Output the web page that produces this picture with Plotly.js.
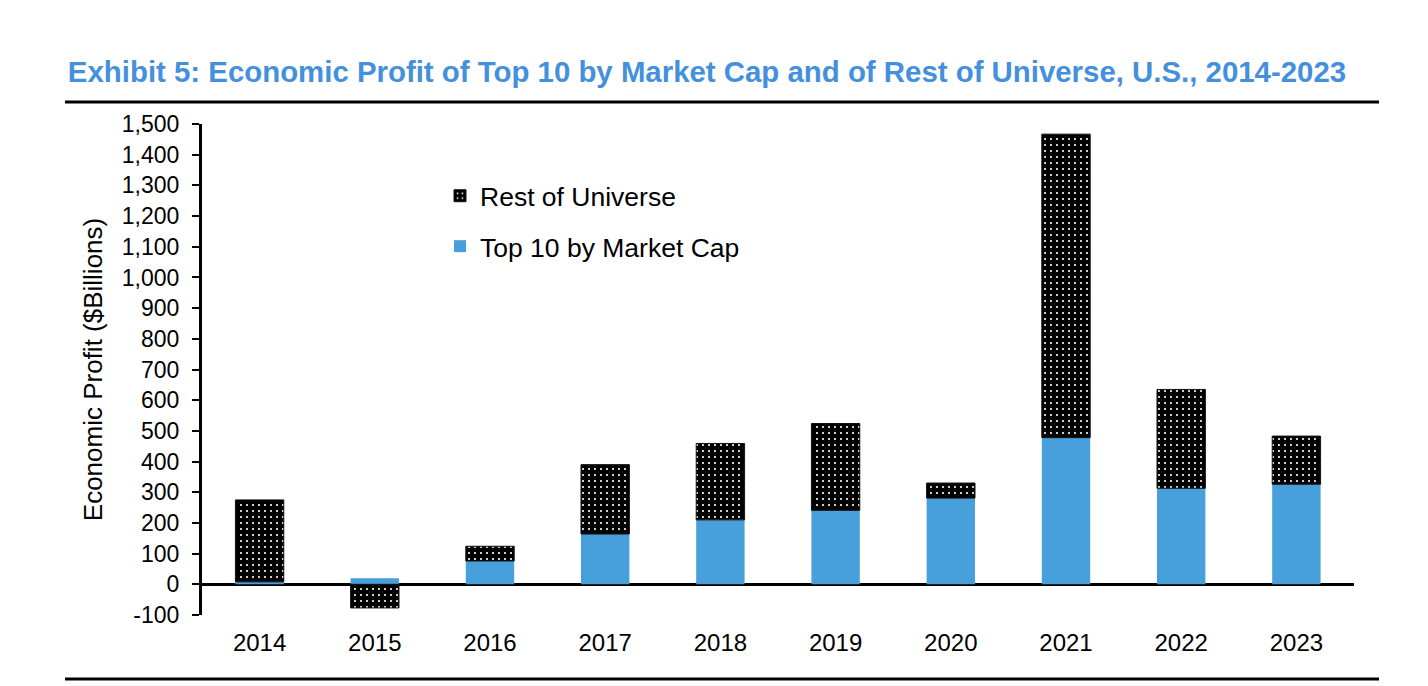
<!DOCTYPE html>
<html>
<head>
<meta charset="utf-8">
<script src="https://cdn.plot.ly/plotly-3.0.1.min.js"></script>
<style>
html,body{margin:0;padding:0;background:#fff;}
#chart{width:1428px;height:686px;}
</style>
</head>
<body>
<div id="chart"></div>
<script>
const years = ['2014','2015','2016','2017','2018','2019','2020','2021','2022','2023'];
const top10 = [8, 20, 76, 164, 210, 241, 281, 478, 313, 326];
const restOfUniverse = [267, -77, 48, 226, 249, 283, 49, 989, 322, 157];
const yTickVals = [-100,0,100,200,300,400,500,600,700,800,900,1000,1100,1200,1300,1400,1500];
const yTickText = ['-100','0','100','200','300','400','500','600','700','800','900','1,000','1,100','1,200','1,300','1,400','1,500'];

const FONT = 'Liberation Sans, Arial, Helvetica, sans-serif';

const traces = [
  {
    type: 'bar', name: 'Top 10 by Market Cap', x: years, y: top10,
    legendgroup: 'a', legendrank: 2,
    marker: {color: '#479fdb', line: {width: 0}}
  },
  {
    type: 'bar', name: 'Rest of Universe', x: years, y: restOfUniverse,
    legendgroup: 'b', legendrank: 1,
    marker: {color: '#000000', line: {width: 1, color: '#111'},
      pattern: {shape: '.', bgcolor: '#000000', fgcolor: '#ffffff', size: 6, solidity: 0.1, fillmode: 'replace'}}
  }
];

const L = 202, R = 1354, T = 124, B = 615;
const px = v => (v - L) / (R - L);
const py = v => (B - v) / (B - T);

const layout = {
  width: 1428, height: 686,
  paper_bgcolor: '#ffffff', plot_bgcolor: '#ffffff',
  margin: {l: L, r: 1428 - R, t: T, b: 686 - B, pad: 0},
  font: {family: FONT, color: '#000', size: 23},
  barmode: 'relative',
  bargap: 0.58,
  showlegend: true,
  title: {
    text: 'Exhibit 5: Economic Profit of Top 10 by Market Cap and of Rest of Universe, U.S., 2014-2023',
    font: {family: FONT, size: 29.4, color: '#4490dc', weight: 'bold'},
    xref: 'container', yref: 'container', x: 707/1428, y: 1 - 72/686,
    xanchor: 'center', yanchor: 'middle'
  },
  legend: {
    x: px(440), y: py(172), xanchor: 'left', yanchor: 'top',
    traceorder: 'grouped', tracegroupgap: 13,
    font: {family: FONT, size: 26.5, color: '#000'},
    bgcolor: 'rgba(0,0,0,0)'
  },
  xaxis: {
    type: 'category', range: [-0.5, 9.5],
    showline: false, showgrid: false, zeroline: false,
    ticks: 'outside', ticklen: 6, tickcolor: 'rgba(0,0,0,0)',
    tickfont: {family: FONT, size: 24, color: '#000'}
  },
  yaxis: {
    range: [-100, 1500], tickvals: yTickVals, ticktext: yTickText,
    showline: true, linecolor: '#000', linewidth: 3,
    ticks: 'outside', ticklen: 7, tickwidth: 2, tickcolor: '#000',
    ticklabelstandoff: 8,
    showgrid: false,
    zeroline: true, zerolinecolor: '#000', zerolinewidth: 3,
    tickfont: {family: FONT, size: 23, color: '#000'},
    title: {text: 'Economic Profit ($Billions)', font: {family: FONT, size: 26, color: '#000'}, standoff: 12}
  },
  shapes: [
    {type: 'line', xref: 'paper', yref: 'paper', x0: px(65), x1: px(1379), y0: py(102), y1: py(102), line: {color: '#000', width: 3}},
    {type: 'line', xref: 'paper', yref: 'paper', x0: px(65), x1: px(1379), y0: py(679), y1: py(679), line: {color: '#000', width: 3}}
  ]
};

Plotly.newPlot('chart', traces, layout, {displayModeBar: false, staticPlot: true});
</script>
</body>
</html>
